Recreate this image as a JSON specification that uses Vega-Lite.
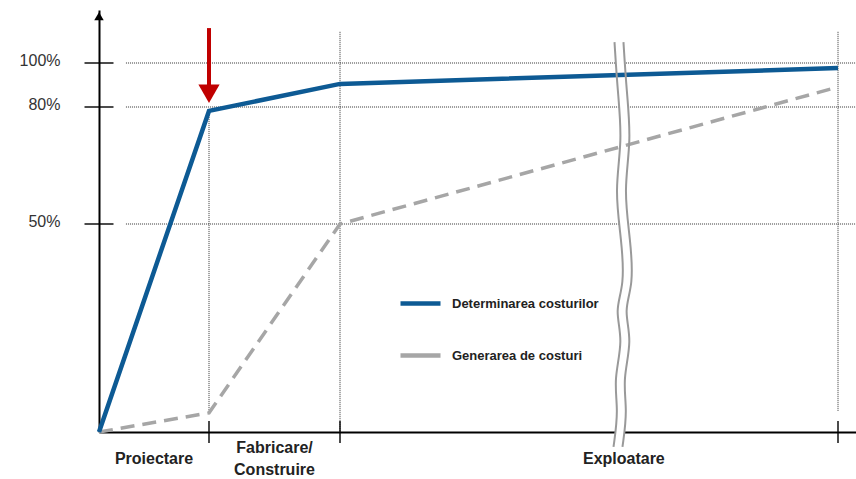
{
  "$schema": "https://vega.github.io/schema/vega-lite/v6.json",
  "width": 757,
  "height": 422,
  "autosize": "none",
  "padding": {"left": 99, "top": 10, "right": 0, "bottom": 47},
  "background": "white",
  "config": {"view": {"stroke": null}, "font": "Liberation Sans"},
  "datasets": {
    "series": [
      {"s": "Determinarea costurilor", "x": 0, "y": 0}, {"s": "Determinarea costurilor", "x": 1, "y": 79},
      {"s": "Determinarea costurilor", "x": 2, "y": 90.5}, {"s": "Determinarea costurilor", "x": 3, "y": 97.7},
      {"s": "Generarea de costuri", "x": 0, "y": 0}, {"s": "Generarea de costuri", "x": 1, "y": 4.6},
      {"s": "Generarea de costuri", "x": 2, "y": 50}, {"s": "Generarea de costuri", "x": 3, "y": 89.1}
    ],
    "hgrid": [{"x": 0.245, "y": 50}, {"x": 0.245, "y": 80}, {"x": 0.245, "y": 100}],
    "vgrid": [{"x": 1, "y": 79, "y2": 4.6}, {"x": 2, "y": 110, "y2": 0}, {"x": 3, "y": 110, "y2": 5}],
    "yticks": [{"x": 0, "y": 50}, {"x": 0, "y": 80}, {"x": 0, "y": 100}],
    "xticks": [{"x": 1, "y": 0}, {"x": 2, "y": 0}, {"x": 3, "y": 0}],
    "labels1": [{"x": 0.5, "y": 0, "t": "Proiectare"}, {"x": 2.57, "y": 0, "t": "Exploatare"}],
    "labels2": [{"x": 1.5, "y": 0, "t": ["Fabricare/", "Construire"]}],
    "breakL": [
      {"x": 2.5512, "y": 106.7}, {"x": 2.5573, "y": 87.7}, {"x": 2.5673, "y": 71.5}, {"x": 2.5512, "y": 58.7},
      {"x": 2.5653, "y": 46.2}, {"x": 2.5713, "y": 35.3}, {"x": 2.5512, "y": 29.3}, {"x": 2.5693, "y": 22.1},
      {"x": 2.5492, "y": 12.5}, {"x": 2.5593, "y": 5.3}, {"x": 2.5492, "y": -3.6}
    ],
    "breakR": [
      {"x": 2.5692, "y": 106.7}, {"x": 2.5753, "y": 87.7}, {"x": 2.5853, "y": 71.5}, {"x": 2.5692, "y": 58.7},
      {"x": 2.5833, "y": 46.2}, {"x": 2.5893, "y": 35.3}, {"x": 2.5692, "y": 29.3}, {"x": 2.5873, "y": 22.1},
      {"x": 2.5672, "y": 12.5}, {"x": 2.5773, "y": 5.3}, {"x": 2.5672, "y": -3.6}
    ],
    "breakFill": [
      {"x": 2.5512, "x2": 2.5692, "y": 106.7}, {"x": 2.5573, "x2": 2.5753, "y": 87.7}, {"x": 2.5673, "x2": 2.5853, "y": 71.5},
      {"x": 2.5512, "x2": 2.5692, "y": 58.7}, {"x": 2.5653, "x2": 2.5833, "y": 46.2}, {"x": 2.5713, "x2": 2.5893, "y": 35.3},
      {"x": 2.5512, "x2": 2.5692, "y": 29.3}, {"x": 2.5693, "x2": 2.5873, "y": 22.1}, {"x": 2.5492, "x2": 2.5672, "y": 12.5},
      {"x": 2.5593, "x2": 2.5773, "y": 5.3}, {"x": 2.5492, "x2": 2.5672, "y": -3.6}
    ],
    "redShaft": [{"x": 1, "y": 111.2, "y2": 89}],
    "redHead": [{"x": 1, "y": 86}],
    "yArrow": [{"x": 0, "y": 115}]
  },
  "encoding": {
    "x": {
      "field": "x", "type": "quantitative",
      "scale": {"domain": [0, 1, 2, 3, 3.04], "range": [0, 110, 241, 739, 757], "nice": false, "zero": false},
      "axis": {"title": null, "labels": false, "ticks": false, "grid": false, "domainColor": "#000000", "domainWidth": 2}
    },
    "y": {
      "field": "y", "type": "quantitative",
      "scale": {"domain": [0, 50, 80, 100, 117], "range": [422, 214, 97, 53, 0], "nice": false, "zero": false},
      "axis": {"title": null, "values": [50, 80, 100], "labelExpr": "datum.value + '%'", "ticks": false, "tickSize": 0,
               "labelPadding": 39, "labelOffset": -3, "grid": false, "domainColor": "#000000", "domainWidth": 2,
               "labelFontSize": 16, "labelColor": "#333333", "labelFont": "Liberation Sans"}
    }
  },
  "layer": [
    {
      "data": {"name": "hgrid"},
      "mark": {"type": "rule", "color": "#333333", "strokeWidth": 1, "strokeDash": [1, 1]},
      "encoding": {"x2": {"value": "width"}}
    },
    {
      "data": {"name": "vgrid"},
      "mark": {"type": "rule", "color": "#333333", "strokeWidth": 1, "strokeDash": [1, 1]},
      "encoding": {"y2": {"field": "y2"}}
    },
    {
      "data": {"name": "breakFill"},
      "mark": {"type": "area", "color": "white", "orient": "horizontal", "interpolate": "basis"},
      "encoding": {"x2": {"field": "x2"}}
    },
    {
      "data": {"name": "series"},
      "transform": [{"filter": "false"}],
      "mark": {"type": "line", "strokeWidth": 4.5},
      "encoding": {
        "color": {
          "field": "s", "type": "nominal",
          "scale": {"domain": ["Determinarea costurilor", "Generarea de costuri"], "range": ["#0d5a94", "#a6a6a6"]},
          "legend": {
            "title": null, "orient": "none", "legendX": 299, "legendY": 271, "padding": 0,
            "symbolType": "stroke", "symbolStrokeWidth": 4.5, "symbolSize": 1600,
            "labelFontSize": 13, "labelFontWeight": "bold", "labelColor": "#222222", "labelFont": "Liberation Sans",
            "labelOffset": 9, "rowPadding": 20
          }
        }
      }
    },
    {
      "data": {"name": "series"},
      "transform": [{"filter": "datum.s === 'Generarea de costuri'"}],
      "mark": {"type": "line", "color": "#a6a6a6", "strokeWidth": 3.5, "strokeDash": [14, 8]}
    },
    {
      "data": {"name": "series"},
      "transform": [{"filter": "datum.s === 'Determinarea costurilor'"}],
      "mark": {"type": "line", "color": "#0d5a94", "strokeWidth": 4.5}
    },
    {
      "data": {"name": "breakL"},
      "mark": {"type": "line", "color": "#999999", "strokeWidth": 2, "interpolate": "basis"},
      "encoding": {"order": {"field": "y", "type": "quantitative"}}
    },
    {
      "data": {"name": "breakR"},
      "mark": {"type": "line", "color": "#999999", "strokeWidth": 2, "interpolate": "basis"},
      "encoding": {"order": {"field": "y", "type": "quantitative"}}
    },
    {
      "data": {"name": "yticks"},
      "mark": {"type": "tick", "orient": "horizontal", "color": "#000000", "size": 29, "thickness": 2}
    },
    {
      "data": {"name": "xticks"},
      "mark": {"type": "tick", "orient": "vertical", "color": "#000000", "size": 22, "thickness": 2}
    },
    {
      "data": {"name": "yArrow"},
      "mark": {"type": "point", "shape": "triangle-up", "filled": true, "color": "#000000", "size": 90, "opacity": 1}
    },
    {
      "data": {"name": "redShaft"},
      "mark": {"type": "rule", "color": "#c00000", "strokeWidth": 4},
      "encoding": {"y2": {"field": "y2"}}
    },
    {
      "data": {"name": "redHead"},
      "mark": {"type": "point", "shape": "triangle-down", "filled": true, "color": "#c00000", "size": 450, "opacity": 1}
    },
    {
      "data": {"name": "labels1"},
      "mark": {"type": "text", "font": "Liberation Sans", "fontSize": 16, "fontWeight": "bold", "color": "#222222",
               "align": "center", "baseline": "middle", "yOffset": 27},
      "encoding": {"text": {"field": "t"}}
    },
    {
      "data": {"name": "labels2"},
      "mark": {"type": "text", "font": "Liberation Sans", "fontSize": 16, "fontWeight": "bold", "color": "#222222",
               "align": "center", "baseline": "middle", "yOffset": 16, "lineHeight": 22},
      "encoding": {"text": {"field": "t"}}
    }
  ]
}
